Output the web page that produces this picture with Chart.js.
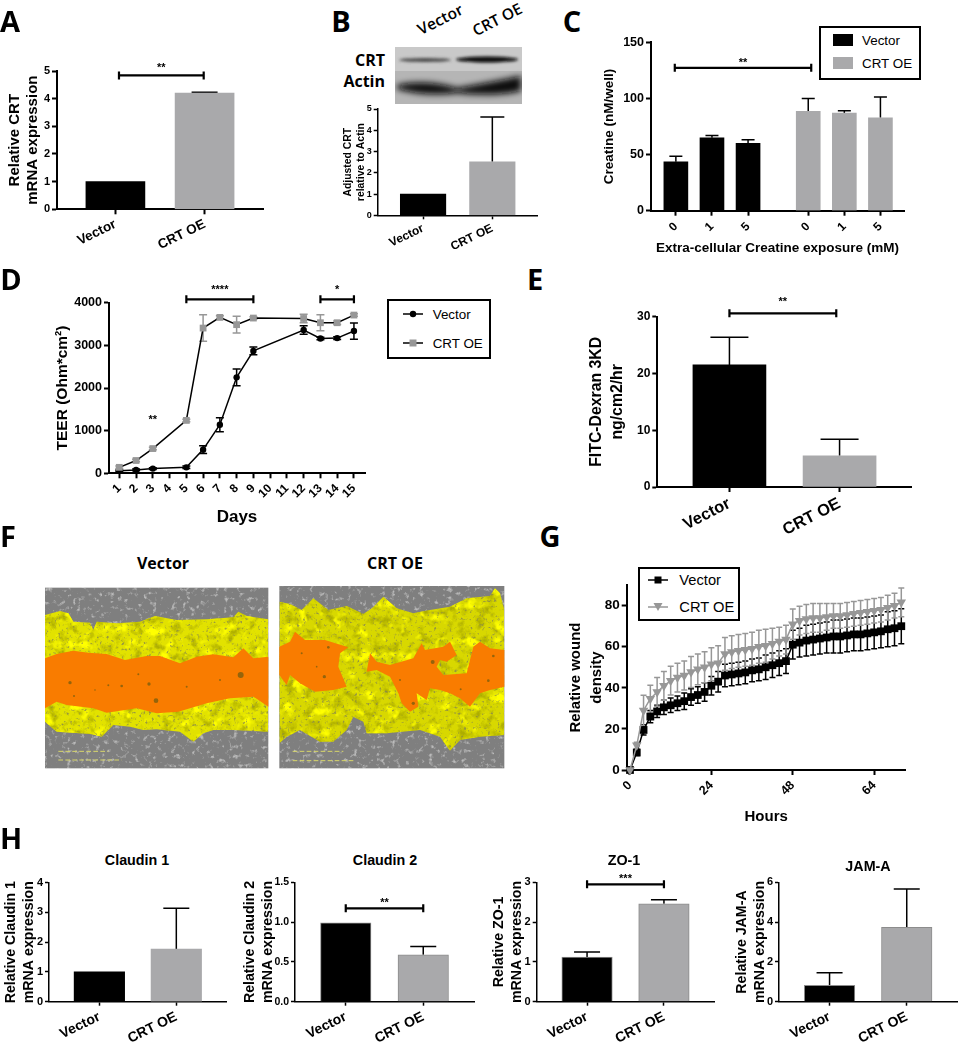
<!DOCTYPE html>
<html lang="en">

<head>
    <meta charset="UTF-8">
    <title>CRT overexpression figure</title>
    <script src="https://cdn.jsdelivr.net/npm/chart.js"></script>
    <style>
        body { margin: 0; background: #fff; }
        #page { position: relative; width: 960px; height: 1050px; overflow: hidden; font-family: "Liberation Sans", Arial, sans-serif; color: #000; }
        #page canvas { position: absolute; filter: blur(0.35px); }
        #page svg { position: absolute; }
        .lbl { position: absolute; transform: translate(-50%, -50%); white-space: nowrap; }
        .letter { font: 700 29px "Open Sans", sans-serif; }
        .legend { position: absolute; background: #fff; border: 2px solid #000; box-sizing: border-box; }
        .legend div { position: absolute; white-space: nowrap; transform: translateY(-50%); }
    </style>
</head>

<body>
    <div id="page">
        <!-- western blot (B) -->
        <svg style="left:395px;top:47px" width="127" height="57" viewBox="0 0 127 57">
            <defs>
                <filter id="soft" x="-20%" y="-60%" width="140%" height="220%"><feGaussianBlur stdDeviation="1.6"/></filter>
                <filter id="soft2" x="-20%" y="-60%" width="140%" height="220%"><feGaussianBlur stdDeviation="3"/></filter>
            </defs>
            <rect width="127" height="24" fill="#c9c9c9"/>
            <rect y="24" width="127" height="33" fill="#b5b5b5"/>
            <ellipse cx="30" cy="13" rx="26" ry="2" fill="#4a4a4a" filter="url(#soft)"/>
            <ellipse cx="92" cy="12.5" rx="31" ry="3" fill="#0c0c0c" filter="url(#soft)"/>
            <path d="M2 38 Q30 32 62 41 Q90 36 126 29 L126 44 Q100 50 62 46 Q30 50 2 42 Z" fill="#080808" filter="url(#soft2)"/>
        </svg>

        <!-- scratch wound images (F) -->
        <svg style="left:0;top:530px" width="530" height="260" viewBox="0 0 1590 780">
            <defs>
                <!-- soft mottling of the cell layer -->
                <filter id="mottle" x="0" y="0" width="1" height="1">
                    <feTurbulence type="fractalNoise" baseFrequency="0.035" numOctaves="4" seed="4"/>
                    <feColorMatrix values="0 0 0 0 0.42  0 0 0 0 0.42  0 0 0 0 0  0 0 0 3 -1.45"/>
                </filter>
                <filter id="bright" x="0" y="0" width="1" height="1">
                    <feTurbulence type="fractalNoise" baseFrequency="0.025" numOctaves="3" seed="12"/>
                    <feColorMatrix values="0 0 0 0 1  0 0 0 0 1  0 0 0 0 0  0 0 0 5 -2.9"/>
                </filter>
                <filter id="specks" x="0" y="0" width="1" height="1">
                    <feTurbulence type="fractalNoise" baseFrequency="0.11" numOctaves="2" seed="7"/>
                    <feColorMatrix values="0 0 0 0 0.2  0 0 0 0 0.2  0 0 0 0 0.1  0 0 0 5 -3.1"/>
                </filter>
                <filter id="greyGrain" x="0" y="0" width="1" height="1">
                    <feTurbulence type="fractalNoise" baseFrequency="0.07" numOctaves="3" seed="21"/>
                    <feColorMatrix values="0 0 0 0 0.85  0 0 0 0 0.85  0 0 0 0 0.85  0 0 0 4 -2.3"/>
                </filter>
                <clipPath id="yellowL"><polygon points="135,255 180,243 205,250 220,275 270,278 280,300 290,275 350,280 420,275 465,258 530,270 620,268 700,262 715,245 740,258 805,268 805,605 700,600 640,600 610,610 580,635 540,605 470,598 430,600 390,590 340,585 305,620 285,615 270,612 240,610 170,605 135,575"/></clipPath>
                <clipPath id="yellowR"><polygon points="838,215 870,222 905,240 940,205 985,240 1040,228 1090,252 1120,232 1150,200 1190,235 1240,250 1290,240 1350,230 1400,205 1470,198 1485,175 1500,190 1513,240 1513,615 1440,620 1380,630 1350,662 1320,620 1260,600 1160,610 1100,610 1090,575 1060,560 1040,600 1000,635 960,635 900,600 860,620 838,640"/></clipPath>
            </defs>
            <rect x="135" y="173" width="670" height="542" fill="#7f7f7f"/>
            <rect x="838" y="168" width="675" height="547" fill="#7f7f7f"/>
            <rect x="135" y="173" width="670" height="542" filter="url(#greyGrain)" opacity="0.55"/>
            <rect x="838" y="168" width="675" height="547" filter="url(#greyGrain)" opacity="0.55"/>
            <g clip-path="url(#yellowL)">
                <rect x="135" y="173" width="670" height="542" fill="#e2e200"/>
                <rect x="135" y="173" width="670" height="542" filter="url(#mottle)"/>
                <rect x="135" y="173" width="670" height="542" filter="url(#bright)"/>
                <rect x="135" y="173" width="670" height="542" filter="url(#specks)" opacity="0.7"/>
            </g>
            <g clip-path="url(#yellowR)">
                <rect x="838" y="168" width="675" height="547" fill="#d8d800"/>
                <rect x="838" y="168" width="675" height="547" filter="url(#mottle)"/>
                <rect x="838" y="168" width="675" height="547" filter="url(#bright)"/>
                <rect x="838" y="168" width="675" height="547" filter="url(#specks)" opacity="0.7"/>
            </g>
            <polygon fill="#f97c00" points="135,385 170,372 220,362 265,368 320,372 375,390 440,378 480,378 540,400 590,380 640,373 700,382 730,355 760,385 805,380 805,530 760,500 690,505 620,520 535,545 470,550 410,535 320,548 280,535 200,525 170,515 135,535"/>
            <polygon fill="#f97c00" points="838,350 870,335 885,305 915,330 975,330 1045,352 1020,370 1015,410 1040,470 1000,480 945,485 900,460 870,435 860,465 838,435"/>
            <polygon fill="#f97c00" points="1100,425 1110,370 1130,395 1170,405 1240,385 1265,340 1275,360 1330,350 1350,335 1370,375 1340,395 1320,390 1310,410 1330,435 1400,430 1420,350 1440,335 1470,355 1513,360 1513,470 1470,480 1440,490 1410,530 1380,505 1350,490 1320,480 1290,475 1280,510 1250,490 1255,530 1230,545 1205,520 1195,490 1170,440 1130,420"/>
            <g fill="#6b5a10" opacity="0.7">
                <circle cx="210" cy="458" r="5"/><circle cx="722" cy="435" r="9"/><circle cx="468" cy="512" r="7"/><circle cx="365" cy="468" r="4"/><circle cx="447" cy="462" r="5"/><circle cx="222" cy="498" r="3"/><circle cx="325" cy="466" r="3"/><circle cx="415" cy="433" r="3"/><circle cx="285" cy="480" r="2.5"/><circle cx="560" cy="470" r="3"/><circle cx="660" cy="450" r="3"/>
                <circle cx="973" cy="440" r="5"/><circle cx="985" cy="352" r="4"/><circle cx="1298" cy="396" r="6"/><circle cx="1240" cy="520" r="5"/><circle cx="1480" cy="378" r="4"/><circle cx="1465" cy="452" r="4"/><circle cx="1382" cy="478" r="3"/><circle cx="905" cy="370" r="3"/><circle cx="1200" cy="450" r="3"/><circle cx="950" cy="410" r="2.5"/>
            </g>
            <g stroke="#d8d66a" stroke-width="3" stroke-dasharray="14 7" fill="none">
                <path d="M175 690H365M175 664H325"/>
                <path d="M878 692H1066M878 664H1030"/>
            </g>
        </svg>
    </div>

    <script>
        // values
        const groupLabels = ['Vector', 'CRT OE'];

        const crtMrnaValues = [1, 4.2];
        const crtMrnaErrors = [0, 0.03];

        const blotValues = [1, 2.52];
        const blotErrors = [0, 2.1];

        const creatineLabels = ['0', '1', '5', '0', '1', '5'];
        const creatineValues = [43.6, 65, 60, 88.5, 87, 82.7];
        const creatineErrors = [4.8, 1.9, 3.2, 11.5, 2, 18.6];

        const dayTicks = ['1', '2', '3', '4', '5', '6', '7', '8', '9', '10', '11', '12', '13', '14', '15'];
        const teerDays = [1, 2, 3, 5, 6, 7, 8, 9, 12, 13, 14, 15];
        const teerVector = [60, 80, 110, 140, 555, 1140, 2250, 2870, 3360, 3160, 3170, 3335];
        const teerVectorErr = [20, 20, 20, 30, 90, 165, 195, 90, 100, 30, 30, 190];
        const teerCrt = [140, 300, 580, 1240, 3405, 3655, 3485, 3640, 3630, 3530, 3530, 3710];
        const teerCrtErr = [30, 30, 30, 30, 310, 40, 195, 30, 100, 185, 40, 30];

        const dextranValues = [21.5, 5.5];
        const dextranErrors = [4.9, 2.9];

        const hourTicks = [0, 24, 48, 72];
        const hourLabels = ['0', '24', '48', '64'];
        const woundHours = [0, 2, 4, 6, 8, 10, 12, 14, 16, 18, 20, 22, 24, 26, 28, 30, 32, 34, 36, 38, 40, 42, 44, 46, 48, 50, 52, 54, 56, 58, 60, 62, 64, 66, 68, 70, 72, 74, 76, 78, 80];
        const woundVector = [0, 8.5, 19.5, 26, 28.5, 30.5, 31.5, 32.5, 33.5, 35.5, 36.5, 38, 41, 43, 46, 46.5, 47, 47.5, 48.5, 49, 50, 51, 52, 53, 61, 62, 63, 63.5, 64, 64.5, 65, 65, 65.5, 66, 66, 66.5, 67, 67.5, 68.5, 69, 70];
        const woundVectorErr = [0, 1.5, 2.5, 3, 3, 3.5, 3.5, 3.5, 4, 4, 4, 4.5, 4.5, 5, 5.5, 5.5, 5.5, 5.5, 5.5, 5.5, 6, 6, 6, 6, 7, 7, 7.5, 7.5, 7.5, 7.5, 8, 8, 8, 8, 8, 8, 8, 8, 8.5, 8.5, 8.5];
        const woundCrt = [0, 12, 29, 34.7, 38, 41, 43.5, 45, 46, 47.7, 49, 50, 51.5, 52, 56.5, 57.4, 58, 58.5, 59, 60, 60.5, 61.5, 62.5, 63.5, 71, 72.7, 73.5, 74, 74, 74.5, 75, 75, 75.5, 76, 76.5, 77, 77.5, 78, 79, 80, 81.6];
        const woundCrtErr = [0, 1.5, 7.4, 6.5, 7, 7, 7, 7, 7, 7.5, 7.5, 7.5, 8, 8.5, 8, 8, 8, 8, 8, 8, 8, 7.5, 7, 7, 7.4, 7, 7, 7, 7, 6.5, 6, 6, 6, 6, 6, 6, 6, 6, 6, 6, 7];

        const claudin1Values = [1, 1.77];
        const claudin1Errors = [0, 1.37];
        const claudin2Values = [0.99, 0.59];
        const claudin2Errors = [0, 0.105];
        const zo1Values = [1.12, 2.46];
        const zo1Errors = [0.13, 0.1];
        const jamaValues = [0.82, 3.74];
        const jamaErrors = [0.64, 1.92];

        const BLACK = '#000000';
        const GREY = '#a9a9ab';
        const MARKER_GREY = '#979797';
        const page = document.getElementById('page');

        // draws error whiskers and significance brackets with the chart's own scales
        const figureMarks = {
            id: 'figureMarks',
            beforeDatasetsDraw(chart) {
                const { ctx, scales: { x, y } } = chart;
                ctx.save();
                chart.data.datasets.forEach(ds => {
                    if (!ds.errors) return;
                    ctx.lineWidth = ds.errorWidth || 1.5;
                    ds.data.forEach((pt, i) => {
                        const err = ds.errors[i];
                        if (!err) return;
                        ctx.strokeStyle = ds.errorColor;
                        const px = x.getPixelForValue(pt.x);
                        const top = y.getPixelForValue(pt.y + err);
                        const base = ds.errorBoth ? y.getPixelForValue(pt.y - err) : y.getPixelForValue(pt.y);
                        ctx.beginPath();
                        ctx.moveTo(px, base);
                        ctx.lineTo(px, top);
                        ctx.moveTo(px - ds.capHalf, top);
                        ctx.lineTo(px + ds.capHalf, top);
                        if (ds.errorBoth) {
                            ctx.moveTo(px - ds.capHalf, base);
                            ctx.lineTo(px + ds.capHalf, base);
                        }
                        ctx.stroke();
                    });
                });
                ctx.restore();
            },
            afterDatasetsDraw(chart, args, opts) {
                const { ctx, scales: { x, y } } = chart;
                (opts.items || []).forEach(m => {
                    const x0 = x.getPixelForValue(m.x0);
                    const x1 = x.getPixelForValue(m.x1);
                    const yy = y.getPixelForValue(m.y);
                    ctx.save();
                    ctx.strokeStyle = BLACK;
                    ctx.lineWidth = 2.2;
                    if (x0 !== x1) {
                        ctx.beginPath();
                        ctx.moveTo(x0, yy);
                        ctx.lineTo(x1, yy);
                        ctx.moveTo(x0, yy - 4);
                        ctx.lineTo(x0, yy + 4);
                        ctx.moveTo(x1, yy - 4);
                        ctx.lineTo(x1, yy + 4);
                        ctx.stroke();
                    }
                    const size = 11;
                    ctx.fillStyle = BLACK;
                    ctx.font = 'bold ' + size + 'px "Liberation Sans"';
                    ctx.textAlign = 'center';
                    ctx.textBaseline = 'alphabetic';
                    ctx.fillText(m.label, (x0 + x1) / 2, yy - m.dy + 0.58 * size);
                    ctx.restore();
                });
            }
        };

        function boldFont(size, lineHeight) {
            return { family: '"Liberation Sans"', weight: 'bold', size: size, lineHeight: lineHeight || 1.2 };
        }

        // places a canvas at box [x0,y0,x1,y1] and keeps the plot area at area [l,t,r,b]
        function makeChart(id, box, area, type, datasets, o) {
            const canvas = document.createElement('canvas');
            canvas.id = id;
            canvas.style.left = box[0] + 'px';
            canvas.style.top = box[1] + 'px';
            canvas.width = box[2] - box[0];
            canvas.height = box[3] - box[1];
            page.appendChild(canvas);

            const grid = { drawOnChartArea: false, drawTicks: true, tickLength: o.tickLength || 5, tickColor: BLACK, tickWidth: o.axisWidth || 2, offset: false };
            const border = { display: true, color: BLACK, width: o.axisWidth || 2 };

            return new Chart(canvas, {
                type: type,
                data: { datasets: datasets },
                plugins: [figureMarks],
                options: {
                    responsive: false,
                    animation: false,
                    layout: { padding: { left: 0, bottom: 0, top: area[1] - box[1], right: box[2] - area[2] } },
                    plugins: { legend: { display: false }, tooltip: { enabled: false }, figureMarks: { items: o.marks || [] } },
                    scales: {
                        x: {
                            type: 'linear',
                            offset: false,
                            min: o.xMin,
                            max: o.xMax,
                            grid: grid,
                            border: border,
                            ticks: {
                                autoSkip: false,
                                minRotation: o.xRotation,
                                maxRotation: o.xRotation,
                                padding: o.xTickPadding === undefined ? 2 : o.xTickPadding,
                                color: BLACK,
                                font: boldFont(o.xTickSize),
                                callback: (v, i) => o.xLabels[i]
                            },
                            title: o.xTitle ? { display: true, text: o.xTitle, color: BLACK, font: boldFont(o.xTitleSize), padding: 0 } : { display: false },
                            afterBuildTicks: axis => { axis.ticks = o.xTicks.map(v => ({ value: v })); },
                            afterFit: axis => { axis.height = box[3] - area[3]; }
                        },
                        y: {
                            type: 'linear',
                            min: 0,
                            max: o.yMax,
                            grid: grid,
                            border: border,
                            ticks: {
                                stepSize: o.yStep,
                                includeBounds: false,
                                padding: o.yTickPadding === undefined ? 2 : o.yTickPadding,
                                color: BLACK,
                                font: boldFont(o.yTickSize),
                                callback: v => v.toFixed(o.yDecimals || 0)
                            },
                            title: { display: true, text: o.yTitle, color: BLACK, font: boldFont(o.yTitleSize, o.yTitleLine), padding: { top: o.yTitlePad, bottom: 0 } },
                            afterFit: axis => { axis.width = area[0] - box[0]; }
                        }
                    }
                }
            });
        }

        function barPanel(id, box, area, values, errors, o) {
            const slots = o.slots || [0, 1];
            const colors = o.colors || [BLACK, GREY];
            const ds = {
                data: values.map((v, i) => ({ x: slots[i], y: v })),
                backgroundColor: colors,
                borderColor: o.barBorder || 'rgba(0,0,0,0)',
                borderWidth: o.barBorder ? 1 : 0,
                barThickness: o.barWidth,
                errors: errors,
                errorColor: BLACK,
                capHalf: o.capHalf
            };
            return makeChart(id, box, area, 'bar', [ds], Object.assign({
                xMin: -0.655,
                xMax: slots[slots.length - 1] + 0.655,
                xTicks: slots,
                xLabels: groupLabels,
                xRotation: 26
            }, o));
        }

        function lineSet(xs, ys, errs, style) {
            return Object.assign({
                data: xs.map((x, i) => ({ x: x, y: ys[i] })),
                errors: errs,
                errorBoth: true,
                tension: 0,
                clip: false
            }, style);
        }

        function addText(text, x, y, css, cls) {
            const el = document.createElement('div');
            el.className = cls || 'lbl';
            el.textContent = text;
            el.style.left = x + 'px';
            el.style.top = y + 'px';
            if (css) el.style.cssText += css;
            page.appendChild(el);
        }

        // framed legend, every entry is a swatch or a line with a marker
        function addLegend(box, textX, textSize, rows) {
            const el = document.createElement('div');
            el.className = 'legend';
            el.style.cssText = 'left:' + box[0] + 'px;top:' + box[1] + 'px;width:' + (box[2] - box[0]) + 'px;height:' + (box[3] - box[1]) + 'px';
            rows.forEach(r => {
                const t = document.createElement('div');
                t.textContent = r.name;
                t.style.cssText = 'left:' + (textX - box[0] - 2) + 'px;top:' + (r.y - box[1] - 2) + 'px;font-size:' + textSize + 'px';
                el.appendChild(t);
                const s = document.createElement('div');
                s.style.cssText = 'left:' + (r.x0 - box[0] - 2) + 'px;top:' + (r.y - box[1] - 2) + 'px;width:' + (r.x1 - r.x0) + 'px;height:16px';
                s.innerHTML = r.svg(r.x1 - r.x0);
                el.appendChild(s);
            });
            page.appendChild(el);
        }

        const swatch = (h, fill) => w => '<svg style="position:static;display:block" width="' + w + '" height="16"><rect y="' + (8 - h / 2) + '" width="' + w + '" height="' + h + '" fill="' + fill + '"/></svg>';
        const lineMark = (stroke, shape) => w => {
            const c = w / 2;
            const mark = {
                circle: '<circle cx="' + c + '" cy="8" r="3.2" fill="#000"/>',
                squareBlack: '<rect x="' + (c - 3.5) + '" y="4.5" width="7" height="7" fill="#000"/>',
                squareGrey: '<rect x="' + (c - 3.5) + '" y="4.5" width="7" height="7" fill="' + MARKER_GREY + '"/>',
                triangle: '<polygon points="' + (c - 4.5) + ',4 ' + (c + 4.5) + ',4 ' + c + ',12" fill="' + MARKER_GREY + '"/>'
            }[shape];
            return '<svg style="position:static;display:block" width="' + w + '" height="16"><line x1="0" y1="8" x2="' + w + '" y2="8" stroke="' + stroke + '" stroke-width="1.5"/>' + mark + '</svg>';
        };

        // A
        barPanel('panelA', [0, 40, 275, 255], [57, 71, 263, 209.3], crtMrnaValues, crtMrnaErrors, {
            barWidth: 59, capHalf: 13, yMax: 5, yStep: 1, xTickSize: 13.5, yTickSize: 11,
            yTitle: ['Relative CRT', 'mRNA expression'], yTitleSize: 15, yTitleLine: 1.2, yTitlePad: 6,
            marks: [{ x0: 0.04, x1: 0.99, y: 4.84, label: '**', dy: 10.7 }]
        });

        // B
        barPanel('panelB', [335, 100, 545, 255], [377.7, 109, 537.7, 215.3], blotValues, blotErrors, {
            barWidth: 45.5, capHalf: 12, yMax: 5, yStep: 1, xTickSize: 12, yTickSize: 9,
            yTitle: ['Adjusted CRT', 'relative to Actin'], yTitleSize: 10.4, yTitleLine: 1.2, yTitlePad: 7, tickLength: 4, axisWidth: 1.5
        });
        addText('CRT', 385, 60, 'font:700 16px "Open Sans";transform:translate(-100%,-50%)');
        addText('Actin', 385, 81, 'font:700 16px "Open Sans";transform:translate(-100%,-50%)');
        addText('Vector', 440, 19, 'font:600 15.5px "Open Sans";transform:translate(-50%,-50%) rotate(-27deg)');
        addText('CRT OE', 497, 19, 'font:600 15.5px "Open Sans";transform:translate(-50%,-50%) rotate(-27deg)');

        // C
        barPanel('panelC', [600, 30, 915, 256], [651, 42.3, 904, 210.7], creatineValues, creatineErrors, {
            slots: [0, 1, 2, 3.667, 4.667, 5.667], xMin: -0.689, xMax: 6.32,
            colors: [BLACK, BLACK, BLACK, GREY, GREY, GREY], xLabels: creatineLabels, xRotation: 45,
            barWidth: 24, capHalf: 6.5, yMax: 150, yStep: 50, xTickSize: 12, yTickSize: 12.5, xTickPadding: 4,
            yTitle: 'Creatine (nM/well)', yTitleSize: 13.5, yTitleLine: 1.2, yTitlePad: 1.3,
            xTitle: 'Extra-cellular Creatine exposure (mM)', xTitleSize: 13.5,
            marks: [{ x0: -0.03, x1: 3.75, y: 127.3, label: '**', dy: 7.7 }]
        });
        addLegend([819, 25.5, 921, 79.5], 862, 13.4, [
            { name: groupLabels[0], y: 40, x0: 833, x1: 853, svg: swatch(12, BLACK) },
            { name: groupLabels[1], y: 63, x0: 833, x1: 853, svg: swatch(12, GREY) }
        ]);

        // D
        makeChart('panelD', [50, 275, 375, 528], [109, 302.7, 365, 473.3], 'line', [
            lineSet(teerDays, teerVector, teerVectorErr, {
                order: 2, borderColor: BLACK, borderWidth: 1.5, pointStyle: 'circle', pointRadius: 3.2,
                pointBackgroundColor: BLACK, pointBorderColor: BLACK, pointBorderWidth: 0, errorColor: BLACK, capHalf: 4
            }),
            lineSet(teerDays, teerCrt, teerCrtErr, {
                order: 1, borderColor: BLACK, borderWidth: 1.5, pointStyle: 'rect', pointRadius: 4.8,
                pointBackgroundColor: MARKER_GREY, pointBorderColor: MARKER_GREY, pointBorderWidth: 0, errorColor: MARKER_GREY, capHalf: 4
            })
        ], {
            xMin: 0.385, xMax: 15.66, xTicks: dayTicks.map(Number), xLabels: dayTicks, xRotation: 45, xTickSize: 12, xTickPadding: 3,
            yMax: 4000, yStep: 1000, yTickSize: 12.5,
            yTitle: 'TEER (Ohm*cm\u00b2)', yTitleSize: 15.5, yTitleLine: 1.2, yTitlePad: 3.7,
            xTitle: 'Days', xTitleSize: 17,
            marks: [
                { x0: 5, x1: 9, y: 4080, label: '****', dy: 12.5 },
                { x0: 13, x1: 15, y: 4080, label: '*', dy: 12.5 },
                { x0: 3, x1: 3, y: 1330, label: '**', dy: 0 }
            ]
        });
        addLegend([386.5, 299, 490.5, 359], 432.7, 13.4, [
            { name: groupLabels[0], y: 314, x0: 403, x1: 423, svg: lineMark(BLACK, 'circle') },
            { name: groupLabels[1], y: 342.7, x0: 403, x1: 423, svg: lineMark(BLACK, 'squareGrey') }
        ]);

        // E
        barPanel('panelE', [580, 290, 920, 545], [657.3, 316.7, 911.7, 487], dextranValues, dextranErrors, {
            barWidth: 73, capHalf: 19, yMax: 30, yStep: 10, xTickSize: 16.5, yTickSize: 12, xRotation: 27,
            yTitle: ['FITC-Dexran 3KD', 'ng/cm2/hr'], yTitleSize: 15.8, yTitleLine: 1.33, yTitlePad: 6.2,
            marks: [{ x0: 0, x1: 0.97, y: 30.6, label: '**', dy: 14.3 }]
        });

        // F
        addText('Vector', 163, 563, 'font:700 16px "Open Sans"');
        addText('CRT OE', 395, 563, 'font:700 16px "Open Sans"');

        // G
        makeChart('panelG', [565, 575, 915, 826], [626.7, 584.3, 905.7, 770], 'line', [
            lineSet(woundHours, woundVector, woundVectorErr, {
                order: 2, borderColor: BLACK, borderWidth: 1.5, pointStyle: 'rect', pointRadius: 5.5,
                pointBackgroundColor: BLACK, pointBorderWidth: 0, errorColor: BLACK, capHalf: 3, errorWidth: 1.5
            }),
            lineSet(woundHours, woundCrt, woundCrtErr, {
                order: 1, borderColor: MARKER_GREY, borderWidth: 1.5, pointStyle: 'triangle', pointRotation: 180, pointRadius: 5.5,
                pointBackgroundColor: MARKER_GREY, pointBorderWidth: 0, errorColor: MARKER_GREY, capHalf: 3, errorWidth: 1.5
            })
        ], {
            xMin: -0.97, xMax: 81.3, xTicks: hourTicks, xLabels: hourLabels, xRotation: 45, xTickSize: 12.5, xTickPadding: 3,
            yMax: 90, yStep: 20, yTickSize: 13.5,
            yTitle: ['Relative wound', 'density'], yTitleSize: 15, yTitleLine: 1.38, yTitlePad: 0.7,
            xTitle: 'Hours', xTitleSize: 15
        });
        addLegend([638, 566.5, 739.5, 621], 679.3, 14.7, [
            { name: groupLabels[0], y: 580, x0: 648, x1: 668, svg: lineMark(BLACK, 'squareBlack') },
            { name: groupLabels[1], y: 606.7, x0: 648, x1: 668, svg: lineMark(MARKER_GREY, 'triangle') }
        ]);

        // H
        const hOpts = { barWidth: 50.5, capHalf: 13, xTickSize: 14, yTickSize: 11, yTitleSize: 14.2, yTitleLine: 1.28, axisWidth: 1.5, tickLength: 4, xTickPadding: 3 };
        barPanel('panelH1', [0, 870, 235, 1050], [49, 882.7, 226.7, 1001.7], claudin1Values, claudin1Errors, Object.assign({}, hOpts, {
            yMax: 4, yStep: 1, yTitle: ['Relative Claudin 1', 'mRNA expression'], yTitlePad: 2.2
        }));
        barPanel('panelH2', [240, 870, 482, 1050], [295, 882.3, 474, 1001.7], claudin2Values, claudin2Errors, Object.assign({}, hOpts, {
            yMax: 1.5, yStep: 0.5, yDecimals: 1, yTickSize: 10.5, barBorder: '#8c8c8c', yTitle: ['Relative Claudin 2', 'mRNA expression'], yTitlePad: 1,
            marks: [{ x0: 0, x1: 1, y: 1.173, label: '**', dy: 8.3 }]
        }));
        barPanel('panelH3', [490, 865, 725, 1050], [536.7, 882.3, 714.3, 1001.7], zo1Values, zo1Errors, Object.assign({}, hOpts, {
            yMax: 3, yStep: 1, barBorder: '#8c8c8c', yTitle: ['Relative ZO-1', 'mRNA expression'], yTitlePad: 0,
            marks: [{ x0: 0, x1: 1, y: 2.95, label: '***', dy: 8.3 }]
        }));
        barPanel('panelH4', [732, 870, 960, 1050], [779, 882.3, 957.3, 1001.7], jamaValues, jamaErrors, Object.assign({}, hOpts, {
            yMax: 6, yStep: 2, barBorder: '#8c8c8c', yTitle: ['Relative JAM-A', 'mRNA expression'], yTitlePad: 0.7
        }));
        addText('Claudin 1', 137, 860, 'font:700 14.3px "Liberation Sans"');
        addText('Claudin 2', 385, 860, 'font:700 14.3px "Liberation Sans"');
        addText('ZO-1', 624, 860, 'font:700 14.3px "Liberation Sans"');
        addText('JAM-A', 868, 866, 'font:700 14.3px "Liberation Sans"');

        // panel letters
        [['A', 10, 20], ['B', 341, 20], ['C', 572, 20], ['D', 11, 278], ['E', 535, 278], ['F', 8, 535], ['G', 550, 535], ['H', 11, 837]].forEach(l => {
            addText(l[0], l[1], l[2], '', 'lbl letter');
        });
    </script>
</body>

</html>
